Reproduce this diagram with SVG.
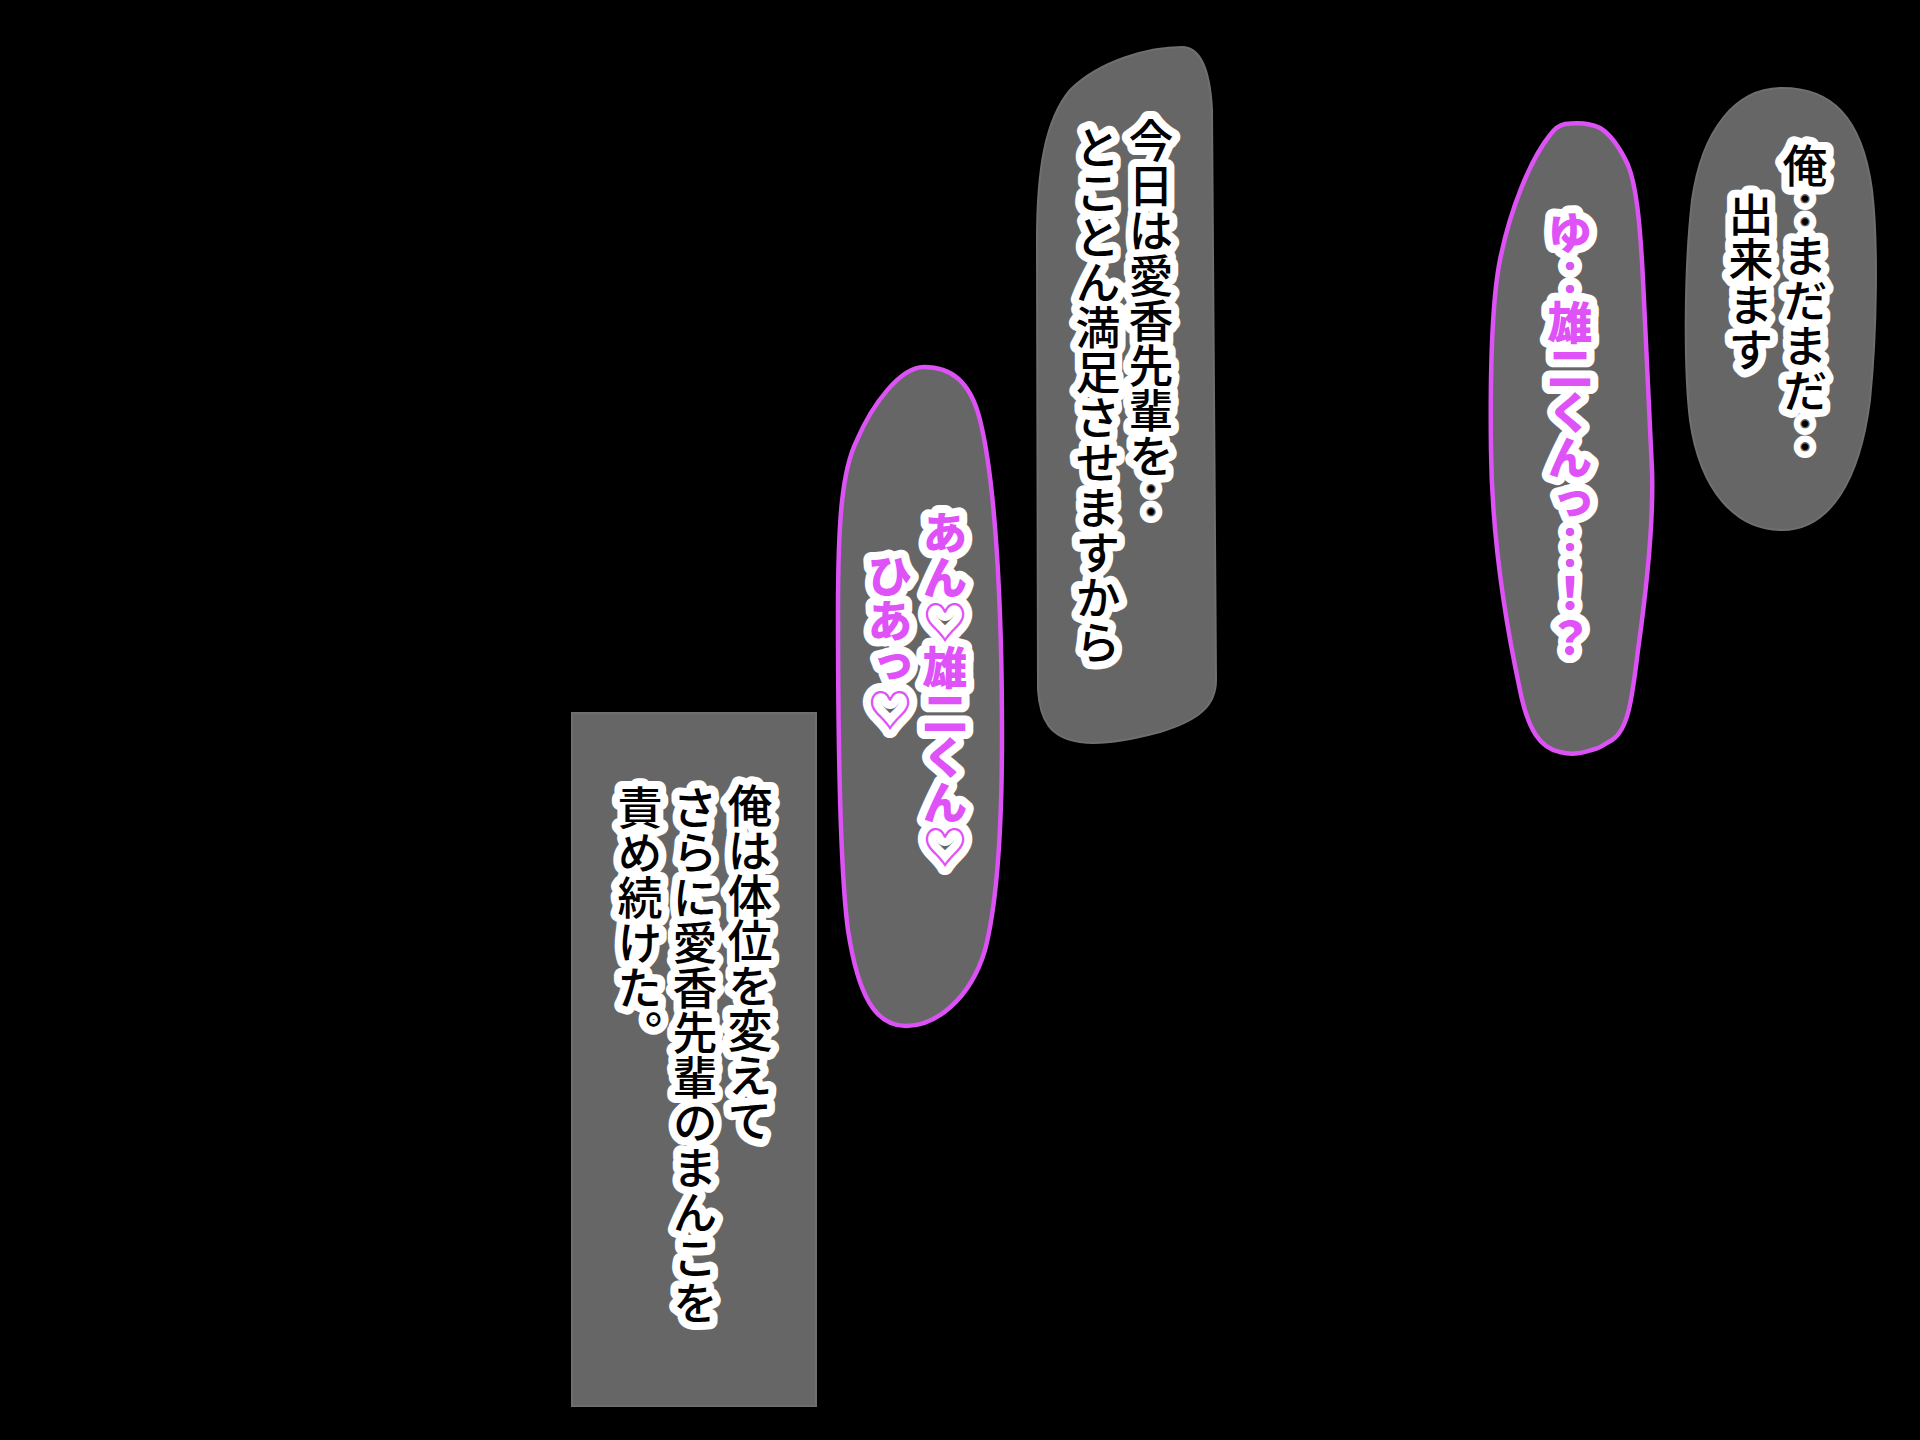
<svg xmlns="http://www.w3.org/2000/svg" width="1920" height="1440" viewBox="0 0 1920 1440">
<style>
.grey{fill:#666666;stroke:#6f6f6f;stroke-width:2}
.purple{fill:#666666;stroke:#DC52F5;stroke-width:4.5}
.t{font-family:"Noto Sans CJK JP","Noto Sans CJK SC",sans-serif;font-size:45px;writing-mode:vertical-rl;text-orientation:upright;paint-order:stroke;stroke:#ffffff;stroke-width:16;stroke-linejoin:round}
.b{fill:#000000;font-weight:500}
.p{fill:#DF52F7;font-weight:900}
</style>
<rect width="1920" height="1440" fill="#000000"/>
<g id="box-narration">
<rect class="grey" x="572" y="713" width="244" height="693"/>
<text class="t b" x="750" y="783">俺は体位を変えて</text>
<text class="t b" x="695" y="785">さらに愛香先輩のまんこを</text>
<text class="t b" x="640" y="785">責め続けた。</text>
</g>
<g id="bubble-kyou">
<path class="grey" d="M1182,47 C1200,47 1210,70 1212,110 L1216,680 C1216,705 1200,720 1160,732 C1130,740 1100,745 1080,742 C1050,738 1040,720 1038,690 L1037,240 C1037,170 1045,120 1070,90 C1100,60 1150,47 1182,47 Z"/>
<text class="t b" x="1151" y="118">今日は愛香先輩を‥</text>
<text class="t b" x="1098" y="125">とことん満足させますから</text>
</g>
<g id="bubble-an">
<path class="purple" d="M924,367 C950,367 970,380 980,420 C995,480 1002,600 1002,735 C1002,820 998,900 985,950 C970,1000 935,1026 906,1026 C875,1026 858,995 848,930 C840,870 838,750 838,612 C838,520 842,470 857,440 C872,405 900,367 924,367 Z"/>
<text class="t p" x="945" y="510">あん♡雄二くん♡</text>
<text class="t p" x="890" y="553">ひあっ♡</text>
</g>
<g id="bubble-yu">
<path class="purple" d="M1565,124 C1580,122 1592,124 1600,128 C1610,134 1620,148 1628,165 C1636,185 1640,220 1643,280 L1652,470 C1654,530 1645,600 1638,650 C1632,700 1628,730 1612,740 C1605,744 1600,748 1595,749 C1585,752 1575,756 1560,752 C1540,748 1528,730 1520,690 C1505,620 1492,540 1491,450 C1490,370 1492,300 1500,260 C1510,210 1530,160 1550,135 C1555,128 1560,125 1565,124 Z"/>
<text class="t p" x="1570" y="210">ゆ‥雄二くんっ…！？</text>
</g>
<g id="bubble-ore">
<path class="grey" d="M1782,88 C1830,88 1862,115 1872,190 C1878,240 1877,330 1870,400 C1860,480 1830,530 1782,530 C1735,530 1700,490 1690,420 C1684,370 1684,270 1692,200 C1702,130 1735,88 1782,88 Z"/>
<text class="t b" x="1805" y="143">俺‥まだまだ‥</text>
<text class="t b" x="1751" y="192">出来ます</text>
</g>
</svg>
